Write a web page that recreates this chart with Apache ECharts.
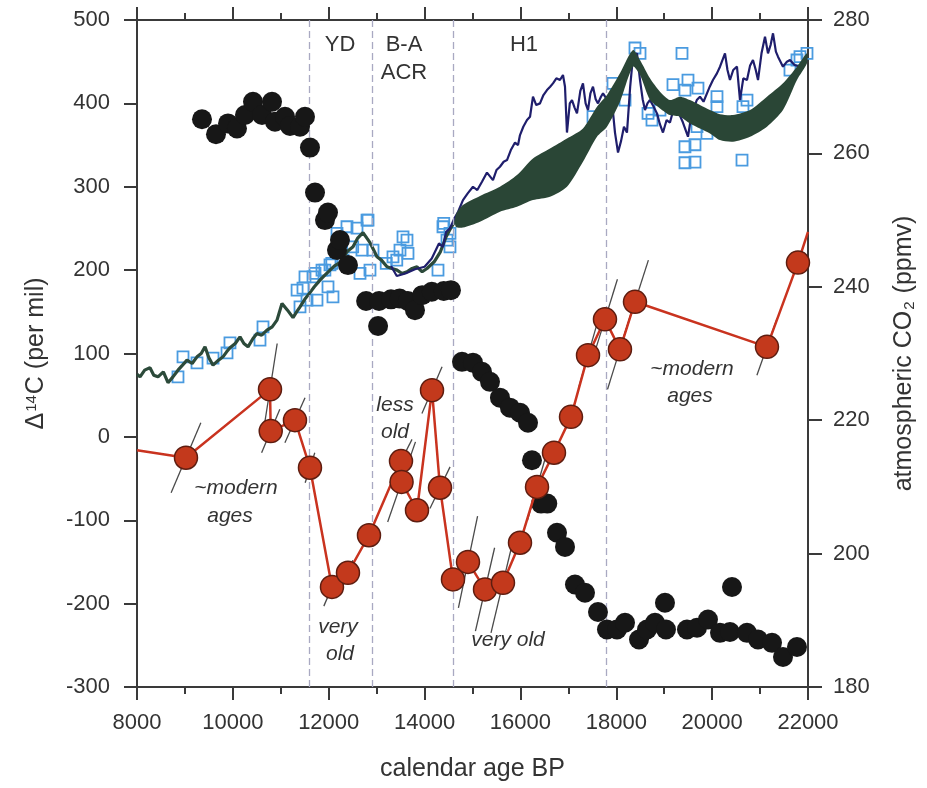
<!DOCTYPE html>
<html>
<head>
<meta charset="utf-8">
<script src="https://cdn.jsdelivr.net/npm/echarts@6/dist/echarts.min.js"></script>
<style>
  html, body { margin: 0; padding: 0; background: #fff; }
  #chart { width: 927px; height: 788px; }
</style>
</head>
<body>
<div id="chart"></div>
<script>
// black dots (left axis, per mil)
var blackAge = [9356, 9648, 9899, 10086, 10253, 10420, 10608, 10817, 10879, 11088, 11192, 11401, 11505, 11609, 11714, 11922, 11985, 12173, 12235, 12402,
  12780, 13030, 13050, 13300, 13480, 13650, 13800, 13950, 14150, 14400, 14550,
  14781, 15010, 15198, 15365, 15573, 15782, 15991, 16158, 16241, 16430, 16560, 16763, 16930, 17138, 17347, 17618, 17806, 18015, 18182,
  18474, 18641, 18808, 19016, 19037, 19475, 19684, 19913, 20164, 20372, 20414, 20727, 20957, 21249, 21478, 21770];
var blackVal = [381, 363, 376, 370, 386, 402, 386, 402, 378, 384, 373, 372, 384, 347, 293, 260, 269, 224, 236, 206,
  163, 133, 163, 165, 166, 163, 152, 170, 174, 175, 176,
  90, 89, 78, 66, 47, 35, 29, 17, -28, -80, -80, -115, -132, -177, -187, -210, -231, -231, -223,
  -243, -231, -223, -199, -231, -231, -229, -219, -235, -234, -180, -235, -243, -247, -264, -252];

// red dots with line (left axis), first and last are where the line leaves the frame
var redAge = [8000, 9022, 10775, 10790, 11296, 11609, 12068, 12402, 12840, 13508, 13520, 13842, 14155, 14322, 14593, 14906, 15261, 15636,
  15991, 16346, 16700, 17055, 17410, 17764, 18077, 18390, 21144, 21791, 22000];
var redVal = [-16, -25, 57, 7, 20, -37, -180, -163, -118, -29, -54, -88, 56, -61, -171, -150, -183, -175,
  -127, -60, -19, 24, 98, 141, 105, 162, 108, 209, 246];
var redAgeErr = [0, 310, 150, 190, 210, 100, 170, 100, 0, 230, 290, 0, 210, 210, 0, 200, 200, 250,
  0, 200, 0, 0, 200, 260, 260, 280, 210, 0, 0];
var redValErr = [0, 42, 55, 26, 27, 18, 23, 15, 0, 26, 48, 0, 28, 25, 0, 55, 50, 60,
  0, 40, 0, 0, 40, 48, 48, 50, 34, 0, 0];

// thin green line (left axis)
var greenAge = [8000, 8063, 8160, 8271, 8350, 8438, 8550, 8647, 8750, 8855, 8950, 9043, 9150, 9252, 9340, 9419, 9500, 9586, 9700, 9794,
  9870, 9940, 10050, 10149, 10230, 10316, 10420, 10504, 10600, 10712, 10820, 10921, 11025, 11140, 11255, 11330, 11401, 11500, 11609,
  11700, 11818, 11920, 12027, 12120, 12235, 12380, 12507, 12600, 12715, 12800, 12861, 12930, 13007, 13100, 13216, 13320, 13425, 13530,
  13633, 13740, 13842, 13950, 14050, 14200, 14330, 14450, 14560, 14680];
var greenVal = [75, 72, 80, 83, 74, 72, 78, 65, 72, 80, 86, 92, 88, 96, 100, 108, 95, 86, 92, 96,
  102, 107, 112, 120, 112, 108, 118, 124, 122, 128, 132, 140, 160, 152, 143, 150, 156, 165, 173,
  180, 188, 194, 200, 205, 209, 222, 228, 238, 245, 238, 233, 225, 216, 212, 204, 202, 200, 196,
  198, 202, 204, 198, 202, 210, 222, 240, 252, 262];

// green envelope (left axis)
var bandAge = [14650, 14800, 15156, 15573, 15928, 16262, 16617, 16971, 17305, 17597, 17806, 18077, 18348, 18495, 18703, 18912, 19120,
  19329, 19537, 19746, 19955, 20164, 20435, 20790, 21144, 21478, 21770, 21979];
var bandHigh = [266, 278, 289, 300, 314, 334, 346, 358, 370, 396, 410, 436, 464, 452, 430, 414, 404, 408, 404, 398, 392, 387, 386, 392, 408, 424, 444, 460];
var bandLow = [252, 251, 258, 270, 276, 284, 288, 300, 330, 360, 372, 402, 444, 434, 404, 394, 386, 384, 376, 370, 364, 356, 354, 360, 372, 392, 428, 448];

// navy line (left axis)
var navyAge = [13300, 13420, 13600, 13800, 14000, 14150, 14300, 14384, 14450, 14530, 14620, 14700, 14801, 14900, 15010, 15100, 15198, 15302,
  15427, 15500, 15573, 15650, 15720, 15800, 15887, 15950, 15991, 16060, 16137, 16200, 16262, 16330, 16408, 16480, 16554, 16620, 16679,
  16750, 16825, 16888, 16930, 16971, 17030, 17076, 17130, 17180, 17250, 17305, 17360, 17410, 17460, 17514, 17570, 17618, 17680, 17723,
  17800, 17869, 17930, 17973, 18036, 18100, 18160, 18223, 18290, 18348, 18432, 18495, 18550, 18599, 18650, 18703, 18780, 18849, 18910,
  18974, 19050, 19120, 19190, 19266, 19330, 19391, 19496, 19550, 19600, 19680, 19746, 19820, 19892, 19950, 20017, 20100, 20164, 20268,
  20320, 20372, 20440, 20518, 20581, 20650, 20727, 20790, 20852, 20910, 20957, 21030, 21103, 21165, 21220, 21270, 21330, 21374, 21478,
  21560, 21624, 21720, 21833, 21979];
var navyVal = [205, 193, 196, 201, 204, 214, 232, 228, 246, 250, 262, 270, 284, 292, 300, 296, 306, 317,
  308, 320, 324, 330, 332, 344, 353, 350, 362, 372, 380, 384, 408, 398, 400, 410, 416, 420, 424,
  430, 428, 434, 420, 365, 400, 404, 395, 388, 415, 424, 400, 392, 412, 420, 405, 400, 408, 412,
  405, 408, 390, 365, 341, 355, 372, 365, 420, 456, 460, 428, 405, 392, 400, 404, 396, 388, 375,
  365, 380, 377, 392, 396, 385, 377, 360, 380, 392, 404, 408, 402, 412, 420, 428, 436, 444, 460,
  440, 428, 440, 444, 404, 430, 428, 445, 452, 440, 428, 460, 480, 460, 470, 484, 462, 456, 444,
  450, 452, 446, 444, 452];

// open blue squares (right axis, ppmv)
var co2Age = [8855, 8960, 9252, 9586, 9878, 9940, 10566, 10629, 11340, 11401, 11463, 11505, 11547, 11672, 11714, 11755, 11860, 11920, 11985,
  12027, 12065, 12089, 12173, 12300, 12381, 12500, 12590, 12653, 12694, 12799, 12820, 12861, 12924, 13200, 13341, 13420, 13487, 13550,
  13633, 13654, 14280, 14384, 14400, 14468, 14530, 14530, 17514, 17931, 18182, 18390, 18495, 18662, 18745, 18912, 19183, 19371, 19433,
  19496, 19704, 20101, 20101, 19433, 19642, 19433, 19642, 19684, 19892, 20623, 20643, 20727, 21624, 21770, 21833, 21979];
var co2Val = [226.5, 229.5, 228.6, 229.3, 230.1, 231.6, 232, 234, 239.5, 237, 239.8, 241.5, 238, 241.5, 242, 238, 242.5, 242.5, 240,
  243.3, 243.5, 238.5, 248, 244, 249, 246, 248.8, 242, 245.5, 250, 250, 242.5, 245.5, 243.5, 244.5, 244, 245.5, 247.5,
  247, 245, 242.5, 249, 249.5, 247, 246, 248, 265.5, 270.5, 268, 275.8, 275, 266, 265, 266.5, 270.3, 275, 269.5,
  271, 269.8, 268.5, 267, 261, 261.3, 258.6, 258.7, 264, 263, 259, 267, 268, 272.5, 274, 274.5, 275];

var periodBounds = [11600, 12900, 14600, 17800];

var FONT = '"Liberation Sans", Arial, sans-serif';
var TXT = '#333';
var AX = '#3a3a3a';

function pairs(a, b) {
  return a.map(function (v, i) { return [v, b[i]]; });
}
function plain(v) { return String(v); }

var redData = redAge.map(function (a, i) {
  var item = { value: [a, redVal[i]] };
  if (i === 0 || i === redAge.length - 1) item.symbol = 'none';
  return item;
});

var myChart = echarts.init(document.getElementById('chart'));

myChart.setOption({
  animation: false,
  textStyle: { fontFamily: FONT },
  grid: { left: 137, right: 119, top: 20, bottom: 101 },
  xAxis: [{
    type: 'value', min: 8000, max: 22000, interval: 2000,
    name: 'calendar age BP', nameLocation: 'middle', nameGap: 70,
    nameTextStyle: { fontSize: 25, color: TXT, fontFamily: FONT },
    axisLine: { onZero: false, lineStyle: { color: AX, width: 2 } },
    axisTick: { length: 13, lineStyle: { color: AX, width: 2 } },
    minorTick: { show: true, splitNumber: 2, length: 7, lineStyle: { color: AX, width: 2 } },
    axisLabel: { fontSize: 22, color: TXT, margin: 25, fontFamily: FONT, formatter: plain },
    splitLine: { show: false }
  }, {
    type: 'value', position: 'top', min: 8000, max: 22000, interval: 2000,
    axisLine: { onZero: false, lineStyle: { color: AX, width: 2 } },
    axisTick: { length: 13, lineStyle: { color: AX, width: 2 } },
    minorTick: { show: true, splitNumber: 2, length: 7, lineStyle: { color: AX, width: 2 } },
    axisLabel: { show: false },
    splitLine: { show: false }
  }],
  yAxis: [{
    type: 'value', min: -300, max: 500, interval: 100,
    name: '{n|Δ}{s|14}{n|C (per mil)}', nameLocation: 'middle', nameGap: 88, nameRotate: 90,
    nameTextStyle: {
      color: TXT,
      rich: {
        n: { fontSize: 25, color: TXT, fontFamily: FONT },
        s: { fontSize: 15, color: TXT, fontFamily: FONT, verticalAlign: 'top', padding: [0, 1, 10, 1] }
      }
    },
    axisLine: { onZero: false, lineStyle: { color: AX, width: 2 } },
    axisTick: { length: 13, lineStyle: { color: AX, width: 2 } },
    axisLabel: { fontSize: 22, color: TXT, margin: 27, fontFamily: FONT, formatter: plain },
    splitLine: { show: false }
  }, {
    type: 'value', position: 'right', min: 180, max: 280, interval: 20,
    name: '{n|atmospheric CO}{b|2}{n| (ppmv)}', nameLocation: 'middle', nameGap: 84, nameRotate: 90,
    nameTextStyle: {
      color: TXT,
      rich: {
        n: { fontSize: 25, color: TXT, fontFamily: FONT },
        b: { fontSize: 15, color: TXT, fontFamily: FONT, verticalAlign: 'bottom', padding: [10, 1, 0, 1] }
      }
    },
    axisLine: { onZero: false, lineStyle: { color: AX, width: 2 } },
    axisTick: { length: 14, lineStyle: { color: AX, width: 2 } },
    axisLabel: { fontSize: 22, color: TXT, margin: 25, fontFamily: FONT },
    splitLine: { show: false }
  }],
  series: [{
    name: 'periods', type: 'line', data: [], z: 1,
    markLine: {
      silent: true, symbol: ['none', 'none'], label: { show: false },
      lineStyle: { type: [7, 4], color: '#a9a9c2', width: 1.3 },
      data: periodBounds.map(function (v) { return { xAxis: v }; })
    }
  }, {
    name: 'CO2', type: 'scatter', yAxisIndex: 1, z: 2,
    symbol: 'rect', symbolSize: 11,
    itemStyle: { color: 'rgba(255,255,255,0)', borderColor: '#4a9be0', borderWidth: 1.8, opacity: 1 },
    data: pairs(co2Age, co2Val)
  }, {
    name: 'green', type: 'line', z: 3, showSymbol: false, symbol: 'none',
    lineStyle: { color: '#2c4a3a', width: 3.2 },
    data: pairs(greenAge, greenVal)
  }, {
    name: 'navy', type: 'line', z: 4, showSymbol: false, symbol: 'none',
    lineStyle: { color: '#1f1e6c', width: 2.2 },
    data: pairs(navyAge, navyVal)
  }, {
    name: 'band', type: 'custom', z: 5,
    data: bandAge.map(function (a, i) { return [a, bandLow[i], bandHigh[i]]; }),
    encode: { x: 0, y: [1, 2] },
    renderItem: function (params, api) {
      if (params.dataIndex !== 0) return { type: 'group', children: [] };
      var pts = [];
      for (var i = 0; i < bandAge.length; i++) pts.push(api.coord([bandAge[i], bandHigh[i]]));
      for (var j = bandAge.length - 1; j >= 0; j--) pts.push(api.coord([bandAge[j], bandLow[j]]));
      return { type: 'polygon', shape: { points: pts, smooth: 0.25 }, style: { fill: '#2a4636' } };
    }
  }, {
    name: 'black', type: 'scatter', z: 6, symbolSize: 20,
    itemStyle: { color: '#171717', opacity: 1 },
    data: pairs(blackAge, blackVal)
  }, {
    name: 'ageErr', type: 'custom', z: 7,
    data: redAge.map(function (a, i) { return [a, redVal[i], redAgeErr[i], redValErr[i]]; }),
    renderItem: function (params, api) {
      var a = api.value(0), v = api.value(1), ea = api.value(2), ev = api.value(3);
      if (!ea) return { type: 'group', children: [] };
      var p1 = api.coord([a - ea, v - ev]);
      var p2 = api.coord([a + ea, v + ev]);
      return { type: 'line', shape: { x1: p1[0], y1: p1[1], x2: p2[0], y2: p2[1] }, style: { stroke: '#4a4a4a', lineWidth: 1.3 } };
    }
  }, {
    name: 'red', type: 'line', z: 8,
    symbol: 'circle', symbolSize: 23,
    lineStyle: { color: '#c9331f', width: 2.5 },
    itemStyle: { color: '#c3391c', borderColor: '#5e1d10', borderWidth: 1.5, opacity: 1 },
    data: redData
  }],
  graphic: [
    { type: 'text', x: 340, y: 45, style: { text: 'YD', font: '22px ' + FONT, fill: TXT, textAlign: 'center', textVerticalAlign: 'middle' } },
    { type: 'text', x: 404, y: 45, style: { text: 'B-A', font: '22px ' + FONT, fill: TXT, textAlign: 'center', textVerticalAlign: 'middle' } },
    { type: 'text', x: 404, y: 73, style: { text: 'ACR', font: '22px ' + FONT, fill: TXT, textAlign: 'center', textVerticalAlign: 'middle' } },
    { type: 'text', x: 524, y: 45, style: { text: 'H1', font: '22px ' + FONT, fill: TXT, textAlign: 'center', textVerticalAlign: 'middle' } },
    { type: 'text', x: 236, y: 488, style: { text: '~modern', font: 'italic 21px ' + FONT, fill: TXT, textAlign: 'center', textVerticalAlign: 'middle' } },
    { type: 'text', x: 230, y: 516, style: { text: 'ages', font: 'italic 21px ' + FONT, fill: TXT, textAlign: 'center', textVerticalAlign: 'middle' } },
    { type: 'text', x: 338, y: 627, style: { text: 'very', font: 'italic 21px ' + FONT, fill: TXT, textAlign: 'center', textVerticalAlign: 'middle' } },
    { type: 'text', x: 340, y: 654, style: { text: 'old', font: 'italic 21px ' + FONT, fill: TXT, textAlign: 'center', textVerticalAlign: 'middle' } },
    { type: 'text', x: 395, y: 405, style: { text: 'less', font: 'italic 21px ' + FONT, fill: TXT, textAlign: 'center', textVerticalAlign: 'middle' } },
    { type: 'text', x: 395, y: 432, style: { text: 'old', font: 'italic 21px ' + FONT, fill: TXT, textAlign: 'center', textVerticalAlign: 'middle' } },
    { type: 'text', x: 508, y: 640, style: { text: 'very old', font: 'italic 21px ' + FONT, fill: TXT, textAlign: 'center', textVerticalAlign: 'middle' } },
    { type: 'text', x: 692, y: 369, style: { text: '~modern', font: 'italic 21px ' + FONT, fill: TXT, textAlign: 'center', textVerticalAlign: 'middle' } },
    { type: 'text', x: 690, y: 396, style: { text: 'ages', font: 'italic 21px ' + FONT, fill: TXT, textAlign: 'center', textVerticalAlign: 'middle' } }
  ]
});

window.addEventListener('resize', function () {
  myChart.resize();
});
</script>
</body>
</html>
